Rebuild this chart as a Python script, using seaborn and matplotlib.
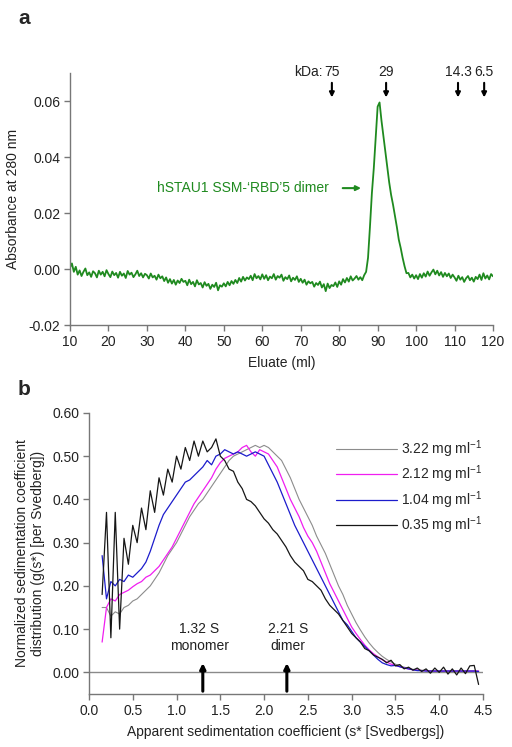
import numpy as np
import pandas as pd
import matplotlib
matplotlib.use("Agg")
import matplotlib.pyplot as plt
import seaborn as sns

# ---- panel a: gel filtration trace (absorbance in 1e-3 AU, every 0.5 ml) ----
eluate_ml = np.arange(10, 120.5, 0.5)
a280_milli = [
    0.5, 2.0, -1.0, 0.8, -2.0, -0.5, -2.5, -1.0, 0.2, -2.2, -1.2, -2.8, -0.8, -1.5, -3.0, -0.6, -2.0, -1.0, -2.6, -0.4,
    -1.8, -2.9, -0.9, -2.2, -1.4, -3.1, -1.0, -2.4, -1.6, -3.2, -0.7, -2.0, -1.3, -2.9, -1.9, -0.6, -2.5, -1.5, -3.0, -1.7,
    -2.2, -3.4, -1.6, -3.0, -2.4, -3.8, -2.0, -3.3, -2.6, -4.3, -3.0, -4.9, -3.6, -5.2, -3.9, -5.6, -4.1, -5.0, -3.5, -4.6,
    -4.2, -5.8, -3.8, -5.4, -4.6, -6.2, -4.0, -5.5, -5.0, -6.6, -4.7, -6.0, -5.3, -7.1, -5.6, -6.4, -4.9, -7.6, -5.8, -6.3,
    -5.1, -6.2, -4.6, -5.8, -4.3, -5.3, -3.9, -5.0, -3.2, -4.5, -2.8, -4.1, -3.0, -3.6, -2.4, -4.0, -1.8, -3.3, -2.5, -3.7,
    -1.9, -3.5, -2.2, -4.0, -2.7, -3.3, -1.8, -3.8, -2.5, -3.1, -2.0, -4.2, -2.9, -3.6, -2.3, -4.4, -3.1, -3.9, -2.6, -4.6,
    -3.5, -4.9, -3.8, -5.6, -4.4, -5.1, -4.6, -6.3, -5.0, -5.7, -4.5, -6.6, -5.4, -7.9, -5.2, -6.8, -5.7, -6.1, -4.8, -6.4,
    -4.4, -5.6, -3.6, -4.8, -3.2, -4.5, -2.6, -4.1, -3.4, -2.5, -3.8, -2.9, -4.0, -2.2, -1.0, 4.0, 15.0, 27.0, 36.0, 47.0,
    58.0, 59.5, 53.0, 47.5, 42.0, 36.5, 31.0, 26.5, 23.0, 19.0, 15.0, 10.5, 7.5, 4.0, 1.0, -1.5, -1.4, -3.0, -2.0, -3.4,
    -2.2, -3.6, -1.8, -3.1, -1.5, -2.7, -0.9, -2.4, -1.2, -0.2, -1.9, -0.6, -2.3, -1.1, -2.8, -1.4, -2.6, -1.6, -3.2, -2.0,
    -3.0, -4.2, -2.4, -3.8, -2.9, -4.6, -3.3, -2.5, -4.0, -3.1, -4.5, -2.8, -3.6, -2.0, -3.9, -1.5, -3.4, -2.3, -3.7, -1.8,
    -2.6,
]
marker_kda = ["75", "29", "14.3", "6.5"]
marker_ml = [78.1, 92.2, 110.9, 117.7]

# ---- panel b: sedimentation coefficient distributions ----
s_star = np.round(np.arange(0.15, 4.451, 0.05), 2)
conc_labels = ["3.22", "2.12", "1.04", "0.35"]
g_322 = [
    0.150, 0.150, 0.130, 0.140, 0.135, 0.150, 0.155, 0.165, 0.170, 0.180,
    0.190, 0.200, 0.215, 0.230, 0.250, 0.270, 0.285, 0.300, 0.320, 0.340,
    0.360, 0.375, 0.390, 0.400, 0.415, 0.430, 0.445, 0.460, 0.475, 0.490,
    0.500, 0.505, 0.510, 0.515, 0.520, 0.525, 0.520, 0.525, 0.520, 0.510,
    0.500, 0.490, 0.470, 0.450, 0.425, 0.400, 0.380, 0.360, 0.340, 0.315,
    0.295, 0.275, 0.250, 0.225, 0.200, 0.180, 0.155, 0.135, 0.115, 0.098,
    0.082, 0.068, 0.056, 0.046, 0.037, 0.030, 0.024, 0.019, 0.015, 0.012,
    0.009, 0.007, 0.006, 0.005, 0.004, 0.004, 0.003, 0.003, 0.003, 0.003,
    0.003, 0.003, 0.003, 0.003, 0.003, 0.003, 0.003,
]
g_212 = [
    0.070, 0.150, 0.170, 0.165, 0.180, 0.185, 0.190, 0.198, 0.205, 0.210,
    0.220, 0.225, 0.235, 0.245, 0.260, 0.275, 0.290, 0.310, 0.330, 0.350,
    0.370, 0.390, 0.405, 0.420, 0.435, 0.450, 0.470, 0.485, 0.495, 0.500,
    0.505, 0.510, 0.520, 0.525, 0.510, 0.500, 0.515, 0.510, 0.505, 0.490,
    0.475, 0.450, 0.425, 0.400, 0.380, 0.360, 0.335, 0.315, 0.300, 0.280,
    0.255, 0.230, 0.205, 0.185, 0.165, 0.145, 0.125, 0.105, 0.090, 0.076,
    0.063, 0.052, 0.043, 0.036, 0.029, 0.024, 0.019, 0.016, 0.013, 0.010,
    0.008, 0.006, 0.005, 0.004, 0.004, 0.003, 0.003, 0.003, 0.003, 0.003,
    0.003, 0.003, 0.003, 0.003, 0.003, 0.003, 0.003,
]
g_104 = [
    0.270, 0.170, 0.210, 0.200, 0.215, 0.210, 0.225, 0.220, 0.230, 0.240,
    0.255, 0.280, 0.310, 0.340, 0.365, 0.380, 0.395, 0.410, 0.425, 0.440,
    0.445, 0.455, 0.465, 0.475, 0.490, 0.480, 0.500, 0.505, 0.515, 0.510,
    0.505, 0.510, 0.505, 0.500, 0.505, 0.510, 0.505, 0.500, 0.480, 0.460,
    0.440, 0.415, 0.390, 0.365, 0.340, 0.320, 0.300, 0.280, 0.260, 0.240,
    0.220, 0.200, 0.180, 0.160, 0.140, 0.120, 0.110, 0.095, 0.080, 0.070,
    0.060, 0.050, 0.040, 0.030, 0.022, 0.018, 0.015, 0.016, 0.013, 0.010,
    0.008, 0.006, 0.004, 0.004, 0.003, 0.003, 0.003, 0.003, 0.003, 0.003,
    0.003, 0.003, 0.003, 0.003, 0.003, 0.003, 0.002,
]
g_035 = [
    0.180, 0.370, 0.080, 0.370, 0.100, 0.310, 0.250, 0.340, 0.300, 0.380,
    0.330, 0.420, 0.370, 0.450, 0.410, 0.470, 0.440, 0.500, 0.470, 0.520,
    0.490, 0.535, 0.500, 0.535, 0.510, 0.520, 0.540, 0.500, 0.490, 0.470,
    0.465, 0.440, 0.425, 0.400, 0.395, 0.385, 0.370, 0.355, 0.345, 0.330,
    0.320, 0.305, 0.290, 0.270, 0.255, 0.245, 0.235, 0.215, 0.210, 0.200,
    0.190, 0.170, 0.155, 0.145, 0.135, 0.120, 0.105, 0.090, 0.080, 0.070,
    0.055, 0.050, 0.040, 0.035, 0.030, 0.022, 0.028, 0.015, 0.018, 0.008,
    0.012, 0.005, 0.010, 0.002, 0.008, -0.002, 0.010, 0.000, 0.012, -0.004,
    0.008, -0.006, 0.010, -0.003, 0.015, 0.016, -0.028,
]
series_colors = ["#8c8c8c", "#f01ef0", "#1c1ccc", "#161616"]
series_widths = [0.8, 0.9, 0.9, 0.9]

sns.set_theme(style="ticks")
plt.rcParams["font.family"] = ["Liberation Sans", "DejaVu Sans"]
plt.rcParams["mathtext.fontset"] = "custom"
plt.rcParams["mathtext.rm"] = "Liberation Sans"
plt.rcParams["mathtext.it"] = "Liberation Sans:italic"
plt.rcParams["axes.unicode_minus"] = False

AXC = "#777777"
TXT = "#222222"
FS = 10

fig = plt.figure(figsize=(5.12, 7.47), dpi=100)

# -------------------------
# PANEL A
# -------------------------
ax1 = fig.add_axes([0.1367, 0.5649, 0.8262, 0.3373])
sec = pd.DataFrame({"ml": eluate_ml, "abs": np.array(a280_milli) / 1000})
sns.lineplot(data=sec, x="ml", y="abs", color="#1f8a1f", lw=1.3, ax=ax1)
ax1.set_xlim(10, 120)
ax1.set_ylim(-0.02, 0.07)
ax1.set_xticks(range(10, 121, 10))
ax1.set_yticks([-0.02, 0.0, 0.02, 0.04, 0.06])
ax1.set_yticklabels(["-0.02", "0.00", "0.02", "0.04", "0.06"])
ax1.set_xlabel("Eluate (ml)", fontsize=FS, color=TXT, labelpad=5)
ax1.set_ylabel("Absorbance at 280 nm", fontsize=FS, color=TXT, labelpad=6)

for kda, ml in zip(marker_kda, marker_ml):
    ax1.annotate("", xy=(ml, 0.0603), xytext=(ml, 0.0675),
                 arrowprops=dict(arrowstyle="-|>", color="black", lw=1.5, mutation_scale=7),
                 annotation_clip=False)
    ax1.text(ml, 0.0705, kda, ha="center", va="center", fontsize=FS, color=TXT)
ax1.text(marker_ml[0] - 2.4, 0.0705, "kDa:", ha="right", va="center", fontsize=FS, color=TXT)

ax1.annotate("", xy=(86.4, 0.0289), xytext=(80.2, 0.0289),
             arrowprops=dict(arrowstyle="-|>", color="#1f8a1f", lw=1.5, mutation_scale=7))
ax1.text(77.4, 0.0289, "hSTAU1 SSM-\u2018RBD\u20195 dimer", ha="right", va="center",
         fontsize=FS, color="#1f8a1f")

# -------------------------
# PANEL B
# -------------------------
ax2 = fig.add_axes([0.1738, 0.0710, 0.7695, 0.3762])
all_g = [g_322, g_212, g_104, g_035]
dist = pd.concat([pd.DataFrame({"s": s_star, "g": g, "conc": c})
                  for g, c in zip(all_g, conc_labels)], ignore_index=True)
ax2.axhline(0, color="#8a8a8a", lw=1.0, zorder=1)
for c, col, w in zip(conc_labels, series_colors, series_widths):
    sns.lineplot(data=dist[dist["conc"] == c], x="s", y="g", color=col, lw=w,
                 estimator=None, ax=ax2, label=c + r" mg ml$^{-1}$")
ax2.set_xlim(0, 4.5)
ax2.set_ylim(-0.05, 0.60)
ax2.set_xticks(np.arange(0, 4.51, 0.5))
ax2.set_xticklabels([f"{v:.1f}" for v in np.arange(0, 4.51, 0.5)])
ax2.set_yticks(np.arange(0, 0.61, 0.1))
ax2.set_yticklabels([f"{v:.2f}" for v in np.arange(0, 0.61, 0.1)])
ax2.set_xlabel("Apparent sedimentation coefficient (s* [Svedbergs])", fontsize=FS, color=TXT, labelpad=5)
ax2.set_ylabel("Normalized sedimentation coefficient\ndistribution (g(s*) [per Svedberg])",
               fontsize=FS, color=TXT, labelpad=5)

ax2.legend(loc="upper left", bbox_to_anchor=(0.627, 0.91), frameon=False,
           fontsize=FS, handlelength=4.4, handletextpad=0.3, labelspacing=0.28,
           borderpad=0, borderaxespad=0)

for x_arrow, x_txt, txt in [(1.30, 1.26, "1.32 S\nmonomer"), (2.26, 2.27, "2.21 S\ndimer")]:
    ax2.annotate("", xy=(x_arrow, 0.028), xytext=(x_arrow, -0.05),
                 arrowprops=dict(arrowstyle="-|>", color="black", lw=2.2, mutation_scale=8))
    ax2.text(x_txt, 0.08, txt, ha="center", va="center", fontsize=FS, color=TXT, linespacing=1.3)

for ax in (ax1, ax2):
    sns.despine(ax=ax)
    for sp in ("left", "bottom"):
        ax.spines[sp].set_color(AXC)
        ax.spines[sp].set_linewidth(1.0)
    ax.tick_params(direction="out", length=4, width=1, color=AXC, labelcolor=TXT, labelsize=FS, pad=3)

fig.text(0.035, 0.975, "a", fontsize=15, fontweight="bold", va="center")
fig.text(0.035, 0.478, "b", fontsize=15, fontweight="bold", va="center")

fig.savefig("out.png", dpi=100)
